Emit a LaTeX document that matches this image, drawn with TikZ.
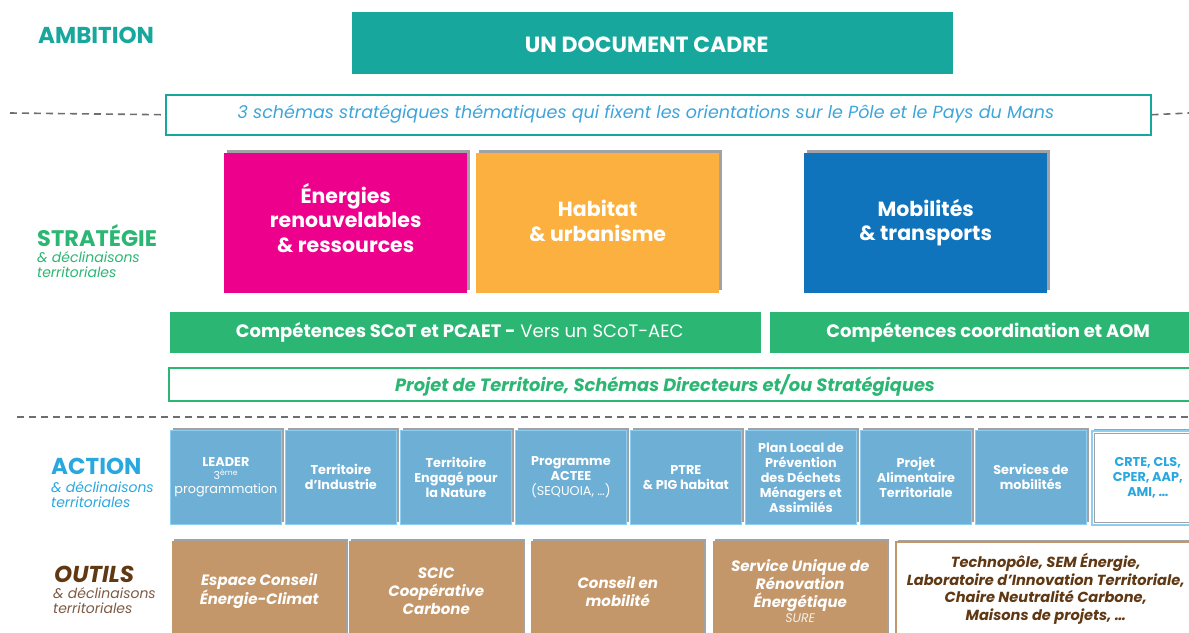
\documentclass[tikz,border=0pt]{standalone}
\usepackage{fontspec}
\setmainfont{Poppins}
\usetikzlibrary{shadows}
\definecolor{cteal}{HTML}{17A79C}
\definecolor{cltext}{HTML}{3DA5DC}
\definecolor{cpink}{HTML}{EC008C}
\definecolor{corange}{HTML}{FBB040}
\definecolor{cblue}{HTML}{1074BC}
\definecolor{cgreen}{HTML}{2BB673}
\definecolor{cact}{HTML}{6DAFD5}
\definecolor{cactb}{HTML}{8CCFF0}
\definecolor{cactl}{HTML}{29A8E0}
\definecolor{cbrown}{HTML}{C3976A}
\definecolor{cdbrown}{HTML}{603813}
\definecolor{cbsub}{HTML}{7D5A44}
\definecolor{cshadow}{HTML}{A0A2A5}
\definecolor{cdash}{HTML}{6D6E71}
\begin{document}
\begin{tikzpicture}[x=1pt,y=-1pt,
  lbl/.style={anchor=west, inner sep=0pt, font=\fontsize{23}{27}\selectfont\bfseries},
  sublbl/.style={anchor=west, inner sep=0pt, align=left, font=\fontsize{14}{15.5}\selectfont\itshape},
  shad/.style={general shadow={shadow xshift=3pt, shadow yshift=3pt, fill=cshadow}},
  sbox/.style={shad, anchor=north west, minimum width=243pt, minimum height=140pt, inner sep=0pt},
  stext/.style={inner sep=0pt, align=center, text=white, font=\fontsize{20.5}{24.5}\selectfont\bfseries},
  gbox/.style={fill=cgreen, anchor=north west, minimum height=41pt, inner sep=0pt,
    text=white, font=\fontsize{18}{21}\selectfont},
  abox/.style={general shadow={shadow xshift=2.5pt, shadow yshift=2pt, fill=cshadow},
    fill=cact, draw=cactb, line width=0.8pt, anchor=north west, minimum width=111pt,
    minimum height=94pt, inner sep=0pt, align=center, text=white,
    font=\fontsize{12.8}{15}\selectfont\bfseries},
  obox/.style={general shadow={shadow xshift=2pt, shadow yshift=2pt, fill=cshadow},
    fill=cbrown, anchor=north west, minimum width=174pt, minimum height=100pt,
    inner sep=0pt, align=center, text=white,
    font=\fontsize{15}{17.8}\selectfont\bfseries\itshape},
  dashln/.style={cdash, line width=1.6pt, dash pattern=on 7pt off 5pt}
]
\useasboundingbox (0,0) rectangle (1189,632);
\clip (0,0) rectangle (1189,632);

% ---------- AMBITION ----------
\node[lbl, text=cteal] (amb) at (38,35.5) {AMBITION};
\node[fill=cteal, anchor=north west, minimum width=601pt, minimum height=62pt, inner sep=0pt,
  label={[inner sep=0pt, text=white, font=\fontsize{22}{24}\selectfont\bfseries, xshift=-6pt, yshift=-2pt]center:UN DOCUMENT CADRE}]
  (cadre) at (352,12) {};

\node[draw=cteal, line width=1.5pt, fill=white, anchor=north west, minimum width=985pt,
  minimum height=40pt, inner sep=0pt] (schemas) at (165,94) {};
\node[inner sep=0pt, text=cltext, font=\fontsize{17.5}{20}\selectfont\itshape] (schemastxt) at (646,114)
  {3 schémas stratégiques thématiques qui fixent les orientations sur le Pôle et le Pays du Mans};
\coordinate (dl1) at (10,113);
\coordinate (dr1) at (1189,113);
\draw[dashln] (dl1) -- (schemas.west);
\draw[dashln] (schemas.east) -- (dr1);

% ---------- STRATEGIE ----------
\node[lbl, text=cgreen, font=\fontsize{22.5}{26}\selectfont\bfseries] (strat) at (37,236) {STRATÉGIE};
\node[sublbl, text=cgreen] (stratsub) at (37,264.5) {\& déclinaisons\\territoriales};

\node[sbox, fill=cpink, label={[stext, yshift=5.5pt]center:Énergies\\renouvelables\\\& ressources}] (ener) at (224,153) {};
\node[sbox, fill=corange, label={[stext, yshift=2.5pt]center:Habitat\\\& urbanisme}] (hab) at (476,153) {};
\node[sbox, fill=cblue, label={[stext, yshift=0.5pt]center:Mobilités\\\& transports}] (mob) at (804,153) {};

\node[gbox, minimum width=591pt, label={[inner sep=0pt, text=white, font=\fontsize{18}{21}\selectfont, xshift=-6pt]center:\textbf{Compétences SCoT et PCAET -} Vers un SCoT-AEC}] (comp1) at (170,312) {};
\node[gbox, minimum width=436pt] (comp2) at (770,312)
  {\textbf{Compétences coordination et AOM}};

\node[draw=cgreen, line width=1.5pt, fill=white, anchor=north west, minimum width=1030pt,
  minimum height=33pt, inner sep=0pt] (projet) at (168,367) {};
\node[inner sep=0pt, text=cgreen, font=\fontsize{17.8}{20}\selectfont\bfseries\itshape] (projettxt)
  at (665,385) {Projet de Territoire, Schémas Directeurs et/ou Stratégiques};

\coordinate (dl2) at (17,417);
\coordinate (dr2) at (1189,417);
\draw[dashln] (dl2) -- (dr2);

% ---------- ACTION ----------
\node[lbl, text=cactl] (act) at (51,466) {ACTION};
\node[sublbl, text=cactl] (actsub) at (51,494.5) {\& déclinaisons\\territoriales};

\node[abox] (a1) at (170,430) {LEADER\\[-2pt]{\mdseries\fontsize{11}{12}\selectfont 3\textsuperscript{ème}}\\[-1pt]{\mdseries programmation}};
\node[abox] (a2) at (285,430) {Territoire\\d’Industrie};
\node[abox] (a3) at (400,430) {Territoire\\Engagé pour\\la Nature};
\node[abox] (a4) at (515,430) {Programme\\ACTEE\\{\mdseries (SEQUOIA, …)}};
\node[abox] (a5) at (630,430) {PTRE\\\& PIG habitat};
\node[abox] (a6) at (745,430) {Plan Local de\\Prévention\\des Déchets\\Ménagers et\\Assimilés};
\node[abox] (a7) at (860,430) {Projet\\Alimentaire\\Territoriale};
\node[abox] (a8) at (975,430) {Services de\\mobilités};
\node[abox, fill=white, draw=cactb, line width=1.6pt, text=cactl, minimum width=112pt] (a9) at (1091,430)
  {CRTE, CLS,\\CPER, AAP,\\AMI, …};
\draw[cshadow, line width=1pt] ([shift={(3,3)}]a9.north west) rectangle ([shift={(-3,-3)}]a9.south east);

% ---------- OUTILS ----------
\node[lbl, text=cdbrown, font=\fontsize{23}{27}\selectfont\bfseries\itshape] (out) at (54,574) {OUTILS};
\node[sublbl, text=cbsub] (outsub) at (53,600.5) {\& déclinaisons\\territoriales};

\node[obox] (o1) at (172,541) {Espace Conseil\\Énergie-Climat};
\node[obox] (o2) at (349,541) {SCIC\\Coopérative\\Carbone};
\node[obox, minimum width=173pt] (o3) at (531,541) {Conseil en\\mobilité};
\node[obox] (o4) at (713,541) {Service Unique de\\Rénovation\\Énergétique\\[-2pt]{\mdseries\fontsize{12.5}{13}\selectfont\color{white!85!cbrown} SURE}};
\node[obox, fill=white, draw=cbrown, line width=1.5pt, minimum width=300pt, minimum height=94pt, text=cdbrown,
  font=\fontsize{14.6}{17.7}\selectfont\bfseries\itshape] (o5) at (895,541)
  {Technopôle, SEM Énergie,\\Laboratoire d’Innovation Territoriale,\\Chaire Neutralité Carbone,\\Maisons de projets, …};
\end{tikzpicture}
\end{document}
